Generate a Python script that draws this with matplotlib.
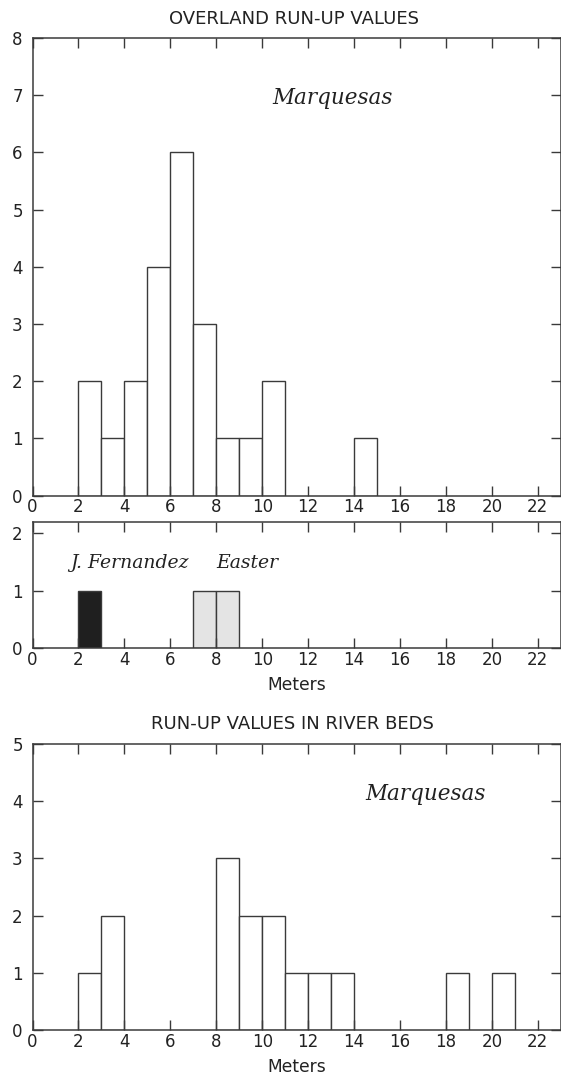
"""Histograms of tsunami run-up heights (overland and in river beds)."""

import matplotlib

matplotlib.use("Agg")
import matplotlib.pyplot as plt
import numpy as np

# bin left edges (m) and counts, bin width 1 m
overland_bins = [2, 3, 4, 5, 6, 7, 8, 9, 10, 14]
overland_counts = [2, 1, 2, 4, 6, 3, 1, 1, 2, 1]

fernandez_bins = [2]
fernandez_counts = [1]
easter_bins = [7, 8]
easter_counts = [1, 1]

river_bins = [2, 3, 8, 9, 10, 11, 12, 13, 18, 20]
river_counts = [1, 2, 3, 2, 2, 1, 1, 1, 1, 1]

x_ticks = list(range(0, 23, 2))

LINE = "#3a3a3a"
TEXT = "#222222"
W, H = 561, 1076


def _frame(ax, ymax, yticks):
    ax.set_xlim(0, 23)
    ax.set_ylim(0, ymax)
    ax.set_xticks(x_ticks)
    ax.set_yticks(yticks)
    ax.tick_params(direction="in", top=True, right=True, length=7.5, width=1.0,
                   color=LINE, labelcolor=TEXT, labelsize=12)
    ax.tick_params(axis="x", pad=2)
    ax.tick_params(axis="y", pad=7)
    for s in ax.spines.values():
        s.set_color(LINE)
        s.set_linewidth(1.1)


def _bars(ax, bins, counts, fill):
    ax.bar(bins, counts, width=1, align="edge", color=fill, edgecolor=LINE, linewidth=1.0)


def _box(top, bottom, left=32.5, right=560.8):
    return [left / W, 1 - bottom / H, (right - left) / W, (bottom - top) / H]


fig = plt.figure(figsize=(W / 100, H / 100), dpi=100)
ital = dict(family="DejaVu Serif", style="italic", color=TEXT, ha="left", va="baseline")

ax1 = fig.add_axes(_box(38.0, 495.7))
_bars(ax1, overland_bins, overland_counts, "white")
_frame(ax1, 8, range(0, 9))
ax1.text(10.42, 6.85, "Marquesas", fontsize=15.5, **ital)

ax2 = fig.add_axes(_box(521.5, 648.3))
_bars(ax2, fernandez_bins, fernandez_counts, "#1f1f1f")
_bars(ax2, easter_bins, easter_counts, "#e4e4e4")
_frame(ax2, 2.2, [0, 1, 2])
ax2.text(1.63, 1.40, "J. Fernandez", fontsize=13.5, **ital)
ax2.text(8.0, 1.40, "Easter", fontsize=13.5, **ital)

ax3 = fig.add_axes(_box(744.0, 1030.0))
_bars(ax3, river_bins, river_counts, "white")
_frame(ax3, 5, range(0, 6))
ax3.text(14.47, 4.02, "Marquesas", fontsize=15.5, **ital)

fig.text(294 / W, 1 - 19 / H, "OVERLAND RUN-UP VALUES", ha="center", va="center",
         fontsize=13, color=TEXT)
fig.text(292 / W, 1 - 724 / H, "RUN-UP VALUES IN RIVER BEDS", ha="center", va="center",
         fontsize=13, color=TEXT)
fig.text(297 / W, 1 - 685 / H, "Meters", ha="center", va="center", fontsize=12.3, color=TEXT)
fig.text(297 / W, 1 - 1067.5 / H, "Meters", ha="center", va="center", fontsize=12.3, color=TEXT)

fig.savefig("out.png", dpi=100)
